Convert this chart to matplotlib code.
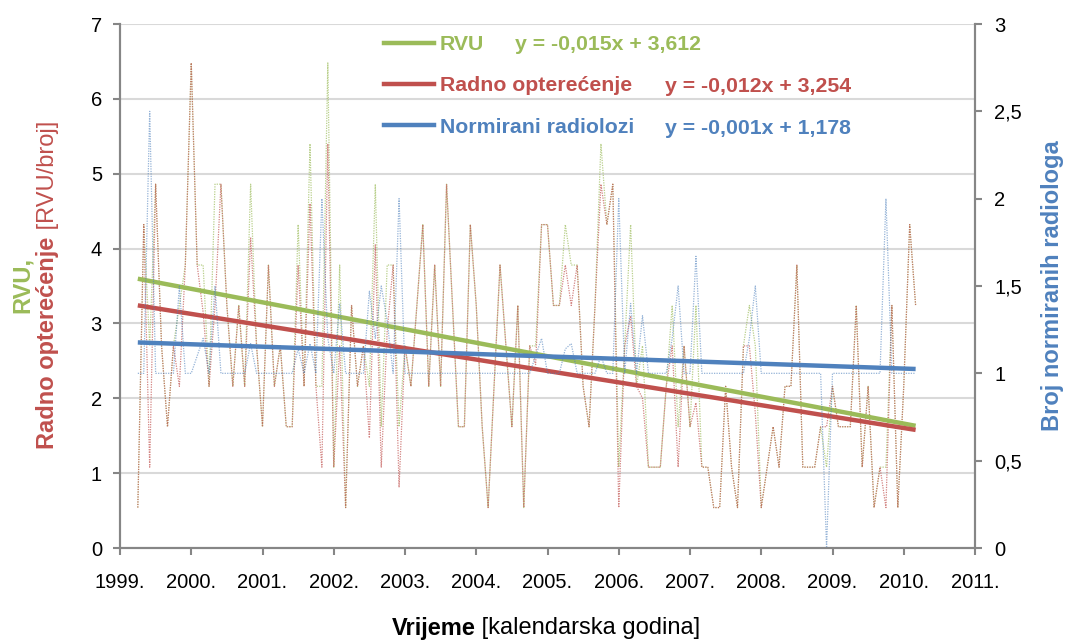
import matplotlib
matplotlib.use("Agg")
import matplotlib.pyplot as plt
from matplotlib.lines import Line2D
import numpy as np
import pandas as pd

plt.rcParams['font.family'] = ['Liberation Sans', 'DejaVu Sans']

# monthly data, April 1999 - March 2010
months = pd.date_range('1999-04-01', periods=132, freq='MS')

rvu = [0.54, 4.32, 2.70, 4.86, 2.70, 1.62, 2.70, 3.24, 3.78, 6.48,
       3.78, 3.78, 2.16, 4.86, 4.86, 3.24, 2.16, 3.24, 2.16, 4.86,
       2.70, 1.62, 3.78, 2.16, 2.70, 1.62, 1.62, 4.32, 2.16, 5.40,
       2.16, 2.16, 6.48, 1.08, 3.78, 0.54, 3.24, 2.16, 2.70, 2.16,
       4.86, 1.62, 3.78, 3.78, 1.62, 2.70, 2.16, 3.24, 4.32, 2.16,
       3.78, 2.16, 4.86, 3.24, 1.62, 1.62, 4.32, 3.24, 1.62, 0.54,
       2.16, 3.78, 2.70, 1.62, 3.24, 0.54, 2.70, 2.70, 4.32, 4.32,
       3.24, 3.24, 4.32, 3.78, 3.78, 2.16, 1.62, 3.24, 5.40, 4.32,
       4.86, 1.08, 2.70, 4.32, 2.16, 2.70, 1.08, 1.08, 1.08, 2.16,
       3.24, 1.62, 2.70, 1.62, 3.24, 1.08, 1.08, 0.54, 0.54, 2.16,
       1.08, 0.54, 2.70, 3.24, 2.70, 0.54, 1.08, 1.62, 1.08, 2.16,
       2.16, 3.78, 1.08, 1.08, 1.08, 1.62, 1.08, 2.16, 1.62, 1.62,
       1.62, 3.24, 1.08, 2.16, 0.54, 1.08, 1.08, 3.24, 0.54, 2.16,
       4.32, 3.24]

opterecenje = [0.54, 4.32, 1.08, 4.86, 2.70, 1.62, 2.70, 2.16, 3.78, 6.48,
               3.78, 3.15, 2.16, 3.24, 4.86, 3.24, 2.16, 3.24, 2.16, 4.15,
               2.70, 1.62, 3.78, 2.16, 2.70, 1.62, 1.62, 3.78, 2.16, 4.60,
               2.16, 1.08, 5.40, 1.08, 2.70, 0.54, 3.24, 2.16, 2.70, 1.47,
               4.05, 1.08, 2.90, 3.78, 0.81, 2.70, 2.16, 3.24, 4.32, 2.16,
               3.78, 2.16, 4.86, 3.24, 1.62, 1.62, 4.32, 3.24, 1.62, 0.54,
               2.16, 3.78, 2.70, 1.62, 3.24, 0.54, 2.70, 2.45, 4.32, 4.32,
               3.24, 3.24, 3.78, 3.24, 3.78, 2.16, 1.62, 3.24, 4.86, 4.32,
               4.86, 0.54, 2.70, 3.10, 2.16, 2.00, 1.08, 1.08, 1.08, 2.16,
               2.70, 1.08, 2.70, 1.62, 1.94, 1.08, 1.08, 0.54, 0.54, 2.16,
               1.08, 0.54, 2.70, 2.70, 1.80, 0.54, 1.08, 1.62, 1.08, 2.16,
               2.16, 3.78, 1.08, 1.08, 1.08, 1.62, 1.62, 2.16, 1.62, 1.62,
               1.62, 3.24, 1.08, 2.16, 0.54, 1.08, 0.54, 3.24, 0.54, 2.16,
               4.32, 3.24]

radiolozi = [1.00, 1.00, 2.50, 1.00, 1.00, 1.00, 1.00, 1.50, 1.00, 1.00,
             1.10, 1.20, 1.00, 1.50, 1.00, 1.00, 1.00, 1.00, 1.00, 1.17,
             1.00, 1.00, 1.00, 1.00, 1.00, 1.00, 1.00, 1.14, 1.00, 1.17,
             1.00, 2.00, 1.20, 1.00, 1.40, 1.00, 1.00, 1.00, 1.00, 1.47,
             1.20, 1.50, 1.30, 1.00, 2.00, 1.00, 1.00, 1.00, 1.00, 1.00,
             1.00, 1.00, 1.00, 1.00, 1.00, 1.00, 1.00, 1.00, 1.00, 1.00,
             1.00, 1.00, 1.00, 1.00, 1.00, 1.00, 1.00, 1.10, 1.20, 1.00,
             1.00, 1.00, 1.14, 1.17, 1.00, 1.00, 1.00, 1.00, 1.10, 1.00,
             1.00, 2.00, 1.00, 1.40, 1.00, 1.33, 1.00, 1.00, 1.00, 1.00,
             1.20, 1.50, 1.00, 1.00, 1.67, 1.00, 1.00, 1.00, 1.00, 1.00,
             1.00, 1.00, 1.00, 1.20, 1.50, 1.00, 1.00, 1.00, 1.00, 1.00,
             1.00, 1.00, 1.00, 1.00, 1.00, 1.00, 0.00, 1.00, 1.00, 1.00,
             1.00, 1.00, 1.00, 1.00, 1.00, 1.00, 2.00, 1.00, 1.00, 1.00,
             1.00, 1.00]

# linear trends (Excel), x = month number 1..132
# slopes are a bit more precise than the rounded equations shown on the chart
trend_names = ['RVU', 'Radno opterećenje', 'Normirani radiolozi']
trend_slope = [-0.0150, -0.0127, -0.00116]
trend_icept = [3.612, 3.254, 1.178]
trend_text = ['y = -0,015x + 3,612', 'y = -0,012x + 3,254', 'y = -0,001x + 1,178']

years = list(range(1999, 2012))

GREEN = '#9BBB59'
RED = '#C0504D'
BLUE = '#4F81BD'
GRAY = '#868686'

t = np.array(months.year + (months.month - 1) / 12.0)
xn = np.arange(1, len(t) + 1)

fig = plt.figure(figsize=(10.76, 6.41), dpi=100)
ax = fig.add_axes([120/1076, 1-548/641, 855/1076, 524/641])
ax2 = ax.twinx()

dot = (0, (1, 1))
ax.plot(t, rvu, color=GREEN, lw=0.9, ls=dot, alpha=0.7)
ax.plot(t, opterecenje, color=RED, lw=0.9, ls=dot, alpha=0.7)
ax2.plot(t, radiolozi, color=BLUE, lw=0.9, ls=dot, alpha=0.6)

ax.plot(t, trend_slope[0]*xn + trend_icept[0], color=GREEN, lw=3.2, solid_capstyle='butt')
ax.plot(t, trend_slope[1]*xn + trend_icept[1], color=RED, lw=3.2, solid_capstyle='butt')
ax2.plot(t, trend_slope[2]*xn + trend_icept[2], color=BLUE, lw=3.2, solid_capstyle='butt')

ax.set_xlim(1999, 2011)
ax.set_ylim(0, 7)
ax2.set_ylim(0, 3)
ax.set_xticks(years)
ax.set_xticklabels([f'{y}.' for y in years])
ax.set_yticks(range(0, 8))
ax2.set_yticks(np.arange(0, 3.01, 0.5))
ax2.set_yticklabels([f'{v:g}'.replace('.', ',') for v in np.arange(0, 3.01, 0.5)])

ax.grid(axis='y', color='#d9d9d9', lw=1.5)
ax.set_axisbelow(True)
for a in (ax, ax2):
    a.spines['top'].set_visible(False)
    for s in ('left', 'right', 'bottom'):
        a.spines[s].set_color(GRAY)
        a.spines[s].set_linewidth(1.5)
ax.tick_params(axis='x', colors=GRAY, labelcolor='black', labelsize=14.5, length=5, width=1.5, pad=13)
ax.tick_params(axis='y', colors=GRAY, labelcolor='black', labelsize=14.5, length=5, width=1.5, pad=8)
ax2.tick_params(axis='y', colors=GRAY, labelcolor='black', labelsize=14.5, length=5, width=1.5, pad=9)

# legend
FS_LEG = 15.3
handles = [Line2D([], [], color=c, lw=3.2) for c in (GREEN, RED, BLUE)]
leg = ax.legend(handles, trend_names, loc='upper left', frameon=False,
                bbox_to_anchor=(384/1076, 1-35/641), bbox_transform=fig.transFigure,
                borderaxespad=0, borderpad=0, handlelength=2.35, handletextpad=0.28,
                labelspacing=1.05, prop={'weight': 'bold', 'size': FS_LEG})
for txt, c in zip(leg.get_texts(), (GREEN, RED, BLUE)):
    txt.set_color(c)
eq_pos = [(515, 44), (665, 86), (665, 128)]
for (px, py), s, c in zip(eq_pos, trend_text, (GREEN, RED, BLUE)):
    fig.text(px/1076, 1-py/641, s, color=c, fontsize=FS_LEG, fontweight='bold', va='center', ha='left')

# axis titles (mixed bold / regular)
FS_T = 17
r = fig.canvas.get_renderer()
a1 = fig.text(0, 1-628/641, 'Vrijeme', fontsize=FS_T, fontweight='bold', va='center', ha='left')
a2 = fig.text(0, 1-628/641, ' [kalendarska godina]', fontsize=FS_T, va='center', ha='left')
w1 = a1.get_window_extent(r).width
w2 = a2.get_window_extent(r).width
x0 = 546 - (w1 + w2) / 2
a1.set_x(x0/1076)
a2.set_x((x0 + w1)/1076)

fig.text(22/1076, 1-285/641, 'RVU,', color=GREEN, fontsize=FS_T, fontweight='bold',
         rotation=90, va='center', ha='center')
b1 = fig.text(48/1076, 0, 'Radno opterećenje', color=RED, fontsize=FS_T, fontweight='bold',
              rotation=90, va='bottom', ha='center')
b2 = fig.text(48/1076, 0, ' [RVU/broj]', color=RED, fontsize=FS_T,
              rotation=90, va='bottom', ha='center')
h1 = b1.get_window_extent(r).height
h2 = b2.get_window_extent(r).height
y0 = (641 - 285) - (h1 + h2) / 2
b1.set_y(y0/641)
b2.set_y((y0 + h1)/641)

fig.text(1053/1076, 1-286/641, 'Broj normiranih radiologa', color=BLUE, fontsize=FS_T,
         fontweight='bold', rotation=90, va='center', ha='center')

fig.savefig('out.png', dpi=100)
